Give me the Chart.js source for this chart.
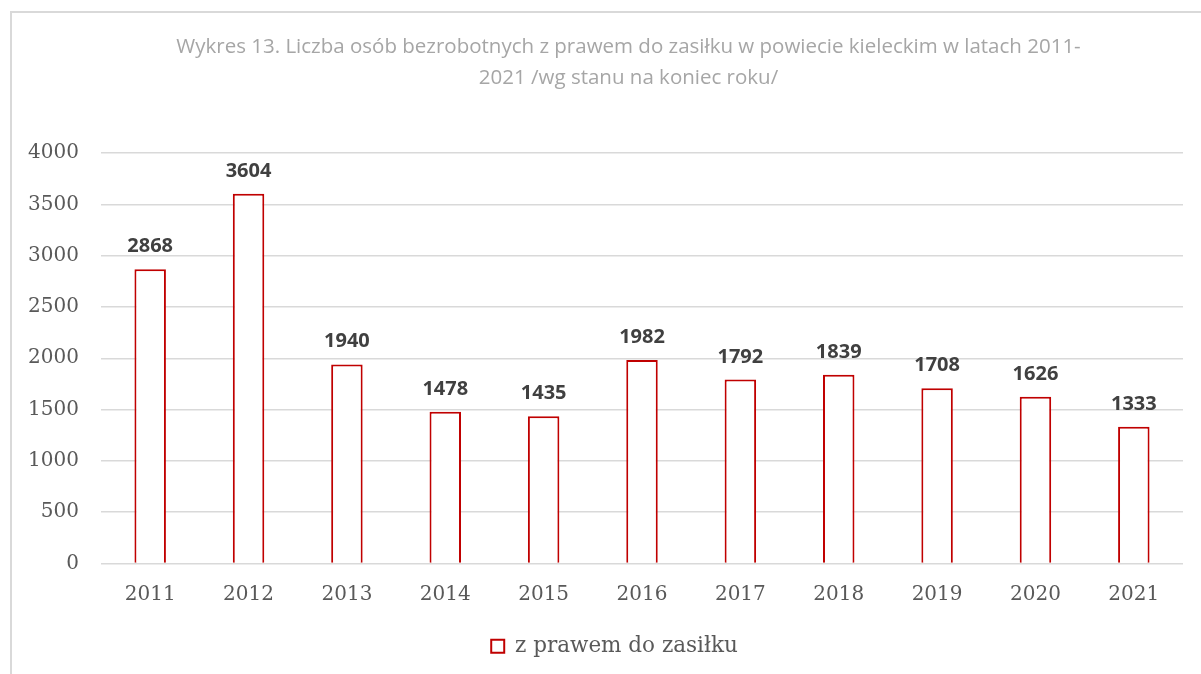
<!DOCTYPE html>
<html lang="pl">
<head>
<meta charset="utf-8">
<title>Wykres 13</title>
<script src="https://cdn.jsdelivr.net/npm/chart.js@4.4.1/dist/chart.umd.min.js"></script>
<style>
  html, body { margin: 0; padding: 0; background: #fff; overflow: hidden; }
  #ramka {
    position: absolute;
    left: 10px;
    top: 11px;
    width: 1240px;
    height: 700px;
    border-left: 2px solid #d9d9d9;
    border-top: 2px solid #d9d9d9;
  }
  #wykres { display: block; }
</style>
</head>
<body>
<div id="ramka">
  <canvas id="wykres" width="1233" height="661"></canvas>
</div>
<script>
// dane z wykresu
const lata = ['2011', '2012', '2013', '2014', '2015', '2016', '2017', '2018', '2019', '2020', '2021'];
const zPrawemDoZasilku = [2868, 3604, 1940, 1478, 1435, 1982, 1792, 1839, 1708, 1626, 1333];
const tytul = [
  'Wykres 13. Liczba osób bezrobotnych z prawem do zasiłku w powiecie kieleckim w latach 2011-',
  '2021 /wg stanu na koniec roku/'
];
const nazwaSerii = 'z prawem do zasiłku';

const etykietyDanych = {
  id: 'etykietyDanych',
  afterLayout(chart) {
    // w Excelu tytuł i legenda są wyśrodkowane względem całego obszaru wykresu,
    // a nie obszaru kreślenia - przesuwamy je w prawo
    chart.titleBlock.left += 31;
    chart.titleBlock.right += 31;
    chart.legend.left += 17;
    chart.legend.right += 17;
  },
  // etykiety nad słupkami (bez pluginu datalabels)
  afterDatasetsDraw(chart) {
    const ctx = chart.ctx;
    ctx.save();
    ctx.font = 'bold 20px "Open Sans"';
    ctx.fillStyle = '#404040';
    ctx.textAlign = 'center';
    ctx.textBaseline = 'alphabetic';
    chart.getDatasetMeta(0).data.forEach((bar, i) => {
      ctx.fillText(String(chart.data.datasets[0].data[i]), bar.x, bar.y - 17);
    });
    ctx.restore();
  }
};

const ctx = document.getElementById('wykres').getContext('2d');

new Chart(ctx, {
  type: 'bar',
  data: {
    labels: lata,
    datasets: [{
      label: nazwaSerii,
      data: zPrawemDoZasilku,
      backgroundColor: '#ffffff',
      borderColor: '#c00000',
      borderWidth: 2,
      barPercentage: 0.32,
      categoryPercentage: 1
    }]
  },
  options: {
    responsive: false,
    animation: false,
    layout: {
      padding: { left: 0, right: 62, top: 0, bottom: 7 }
    },
    scales: {
      x: {
        grid: { display: false, drawTicks: false },
        border: { display: false },
        ticks: {
          color: '#595959',
          font: { family: '"DejaVu Serif"', size: 20 },
          padding: 19
        },
        afterFit(scale) { scale.height = 63; }
      },
      y: {
        min: 0,
        max: 4000,
        ticks: {
          stepSize: 500,
          color: '#595959',
          font: { family: '"DejaVu Serif"', size: 20 },
          padding: 22,
          callback: (v) => String(v)
        },
        grid: { color: '#d9d9d9', lineWidth: 1.5, drawTicks: false },
        border: { display: false },
        afterFit(scale) { scale.width = 89; }
      }
    },
    plugins: {
      title: {
        display: true,
        text: tytul,
        color: '#a6a6a6',
        font: { family: '"Open Sans"', size: 20.5, weight: 'normal', lineHeight: '31px' },
        padding: { top: 18.5, bottom: 59.5 }
      },
      legend: {
        position: 'bottom',
        labels: {
          color: '#595959',
          font: { family: '"DejaVu Serif"', size: 21.5 },
          boxWidth: 13,
          boxHeight: 13,
          padding: 9
        }
      },
      tooltip: { enabled: false }
    }
  },
  plugins: [etykietyDanych]
});
</script>
</body>
</html>
